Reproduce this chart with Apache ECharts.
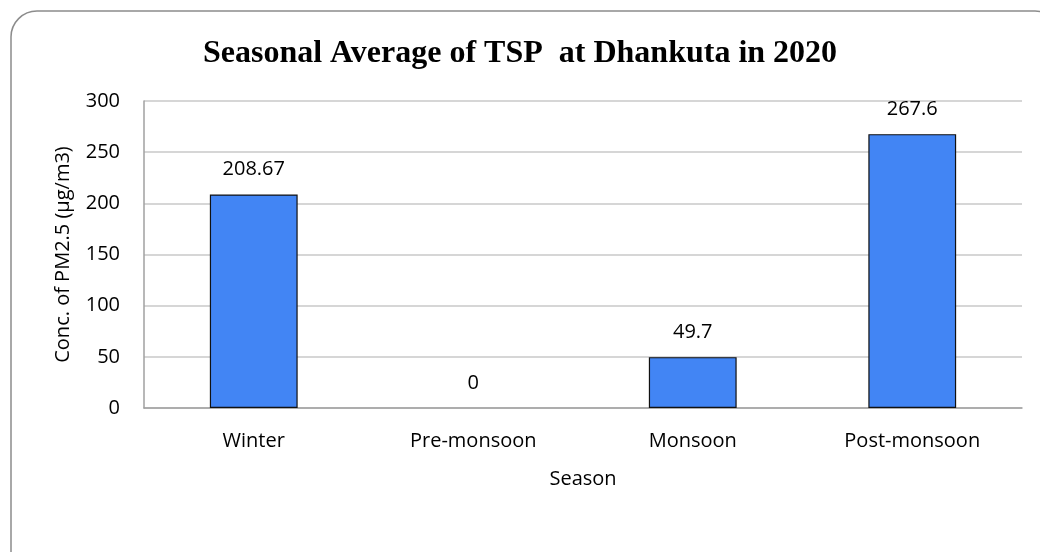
<!DOCTYPE html>
<html>
<head>
<meta charset="utf-8">
<script src="https://cdn.jsdelivr.net/npm/echarts@6/dist/echarts.min.js"></script>
<style>
  html, body { margin: 0; padding: 0; background: #fff; }
  #chart { width: 1040px; height: 552px; }
</style>
</head>
<body>
<div id="chart"></div>
<script>
// Seasonal TSP averages, Dhankuta 2020
const seasons = ['Winter', 'Pre-monsoon', 'Monsoon', 'Post-monsoon'];
const tspValues = [208.67, 0, 49.7, 267.6];
const yTicks = [0, 50, 100, 150, 200, 250, 300];

const chart = echarts.init(document.getElementById('chart'), null, { renderer: 'canvas' });
const bodyFont = 'Open Sans';

// a zero-height bar keeps its label but draws no outline
const barData = tspValues.map(v => (v === 0 ? { value: v, itemStyle: { borderWidth: 0 } } : v));

chart.setOption({
  animation: false,
  backgroundColor: '#ffffff',
  graphic: [{
    type: 'rect',
    shape: { x: 11, y: 11, width: 1050, height: 570, r: 26 },
    style: { fill: 'none', stroke: '#8c8c8c', lineWidth: 1.5 },
    silent: true,
    z: -1
  }],
  title: {
    text: 'Seasonal Average of TSP  at Dhankuta in 2020',
    left: 'center',
    top: 33,
    textStyle: {
      fontFamily: 'Liberation Serif',
      fontWeight: 'bold',
      fontSize: 32,
      color: '#000'
    }
  },
  grid: { left: 144, right: 18, top: 101, bottom: 144 },
  xAxis: {
    type: 'category',
    data: seasons,
    name: 'Season',
    nameLocation: 'middle',
    nameGap: 61,
    nameTextStyle: { fontFamily: bodyFont, fontSize: 20, color: '#000' },
    axisLine: { lineStyle: { color: '#a0a0a0', width: 1.5 } },
    axisTick: { show: false },
    axisLabel: { fontFamily: bodyFont, fontSize: 20, color: '#000', margin: 23 }
  },
  yAxis: {
    type: 'value',
    min: yTicks[0],
    max: yTicks[yTicks.length - 1],
    interval: yTicks[1] - yTicks[0],
    name: 'Conc. of PM2.5 (µg/m3)',
    nameLocation: 'middle',
    nameGap: 71,
    nameTextStyle: { fontFamily: bodyFont, fontSize: 20, color: '#000' },
    axisLine: { show: true, lineStyle: { color: '#a0a0a0', width: 1.5 } },
    axisTick: { show: false },
    axisLabel: { fontFamily: bodyFont, fontSize: 20, color: '#000', margin: 24 },
    splitLine: { lineStyle: { color: '#c8c8c8', width: 1.5 } }
  },
  series: [{
    type: 'bar',
    data: barData,
    barWidth: '40%',
    itemStyle: { color: '#4285f4', borderColor: '#111', borderWidth: 1.2 },
    label: {
      show: true,
      position: 'top',
      distance: 15,
      fontFamily: bodyFont,
      fontSize: 20,
      color: '#000'
    }
  }]
});
</script>
</body>
</html>
